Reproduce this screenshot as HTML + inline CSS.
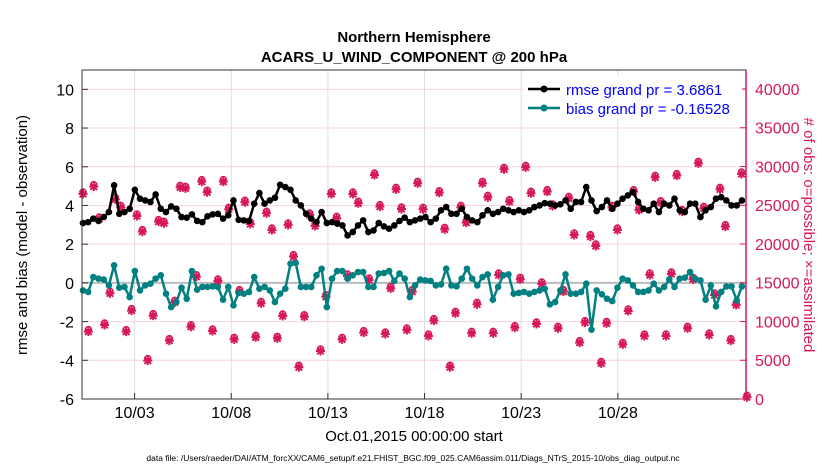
<!DOCTYPE html>
<html><head><meta charset="utf-8"><style>
body{margin:0;background:#fff;font-family:"Liberation Sans",sans-serif}
svg text{font-family:"Liberation Sans",sans-serif}
</style></head><body>
<svg id="chart" width="830" height="470" viewBox="0 0 830 470" xmlns="http://www.w3.org/2000/svg">
<rect width="830" height="470" fill="#fff"/>
<text x="414" y="42" text-anchor="middle" font-size="15" font-weight="bold">Northern Hemisphere</text>
<text x="414" y="62" text-anchor="middle" font-size="15" font-weight="bold">ACARS_U_WIND_COMPONENT @ 200 hPa</text>
<g id="grid"></g>
<g id="marks"></g>
<rect x="82" y="70" width="664" height="329" fill="none" stroke="#333" stroke-width="1"/>
<line x1="746" y1="70" x2="746" y2="399" stroke="#d6185a" stroke-width="1.5"/>
<g id="axes"></g>
<text transform="translate(27,235) rotate(-90)" text-anchor="middle" font-size="15">rmse and bias (model - observation)</text>
<text transform="translate(804,235) rotate(90)" text-anchor="middle" font-size="15" fill="#d6185a"># of obs: o=possible; ×=assimilated</text>
<text x="414" y="441" text-anchor="middle" font-size="15">Oct.01,2015 00:00:00 start</text>
<text x="413" y="461" text-anchor="middle" font-size="8.5">data file: /Users/raeder/DAI/ATM_forcXX/CAM6_setup/f.e21.FHIST_BGC.f09_025.CAM6assim.011/Diags_NTrS_2015-10/obs_diag_output.nc</text>
<g>
<rect x="524" y="76" width="218" height="42" fill="#fff"/>
<line x1="528" y1="89" x2="560" y2="89" stroke="#000" stroke-width="2.5"/>
<circle cx="544" cy="89" r="3.5" fill="#000"/>
<text x="566" y="95" font-size="15" fill="#0000ff">rmse grand pr = 3.6861</text>
<line x1="528" y1="108" x2="560" y2="108" stroke="#008080" stroke-width="2.5"/>
<circle cx="544" cy="108" r="3.5" fill="#008080"/>
<text x="566" y="114" font-size="15" fill="#0000ff">bias grand pr = -0.16528</text>
</g>
</svg>
<script>
const rmse=[3.09,3.14,3.32,3.2,3.4,3.66,5.04,3.57,3.66,3.83,4.81,4.35,4.26,4.18,4.57,3.83,3.66,3.95,3.83,3.4,3.37,3.54,3.2,3.14,3.44,3.54,3.57,3.32,3.49,4.26,3.26,3.23,3.2,4.09,4.64,4.09,4.26,4.4,5.07,4.95,4.81,4.26,4.0,
3.57,3.32,3.14,3.66,3.09,3.14,3.06,2.97,2.45,2.63,2.97,3.23,2.63,2.71,3.09,2.92,2.8,2.97,3.2,3.37,3.14,3.23,3.32,3.4,3.14,3.32,3.75,3.92,3.57,3.57,3.83,3.4,3.23,3.14,3.49,3.75,3.57,3.66,3.83,3.75,3.66,
3.75,3.66,3.75,3.92,4.0,4.12,4.09,4.0,4.06,4.26,3.83,4.18,4.18,4.95,4.26,3.71,3.92,4.26,3.83,4.09,4.35,4.52,4.69,4.18,3.83,3.75,4.09,3.66,4.09,4.0,4.35,3.75,3.66,4.09,4.09,3.4,3.75,3.92,4.35,4.43,4.26,4.0,4.0,4.26];
const bias=[-0.39,-0.47,0.3,0.22,0.17,-0.13,0.91,-0.25,-0.21,-0.73,0.61,-0.39,-0.13,-0.04,0.22,0.39,-0.56,-1.25,-0.99,-0.25,-0.82,0.61,-0.35,-0.21,-0.21,-0.18,-0.21,-0.87,-0.21,-1.16,-0.52,-0.56,-0.47,0.3,-0.3,-0.21,-0.39,-0.99,-0.56,-0.3,0.99,1.03,-0.21,
-0.21,-0.21,0.39,0.73,-1.25,0.22,0.61,0.61,0.22,0.39,0.56,0.56,-0.21,-0.21,0.48,0.51,0.61,0.1,0.48,0.22,-0.73,-0.13,0.17,0.13,0.1,-0.13,-0.08,0.73,-0.13,-0.18,0.22,0.73,0.22,-0.13,0.3,0.44,-0.87,-0.21,0.39,0.44,-0.56,-0.52,
-0.47,-0.56,-0.47,-0.39,-0.3,-1.11,-0.99,-0.39,0.44,-0.56,-0.56,-0.47,-0.04,-2.42,-0.39,-0.59,-0.82,-0.94,-0.25,0.22,0.13,-0.13,-0.47,-0.47,-0.39,-0.04,-0.39,-0.21,0.17,-0.21,0.22,0.27,0.56,0.22,0.13,-0.87,-0.13,-1.21,-0.47,-0.18,-0.18,-0.9,-0.18];
const nAssim=[26450,8690,27400,23230,9550,13630,25760,24730,8690,11400,23610,21590,4950,10750,22880,22670,7530,12470,27310,27180,9330,15780,28040,26670,8770,15230,28040,24470,7700,13850,25380,22580,7960,12340,23960,21810,7830,10710,22450,18370,4090,10620,
23740,22320,6190,13200,26450,23310,7700,15870,26450,25250,8560,15350,28900,24820,8390,14280,27050,24520,8900,13850,27830,24470,8130,10110,26620,21890,4090,11050,24730,22750,8470,12210,27830,26020,8470,16000,29630,25460,9210,
15440,29890,26540,9680,14840,26750,24900,9120,13850,25890,21160,7270,9850,20950,19740,4600,9760,24730,21810,7050,11350,26750,24390,8130,16000,28600,25330,8130,16130,28820,24170,9120,15440,30410,24600,8260,13420,27050,22240,7530,12130,29030,220];
const xTickLabels=["10/03","10/08","10/13","10/18","10/23","10/28"];
const xTickDays=[2,7,12,17,22,27];
const leftTicks=[-6,-4,-2,0,2,4,6,8,10];
const rightTicks=[0,5000,10000,15000,20000,25000,30000,35000,40000];
const dayStart=-0.72, dayEnd=33.63;
const lineStartDay=-0.67, lineEndDay=33.42, obsStartDay=-0.67, obsEndDay=33.68;

const X0=82,X1=746,Y0=399,Y1=70;
const xS=d=>X0+(d-dayStart)/(dayEnd-dayStart)*(X1-X0);
const yL=v=>Y0-(v+6)/17*(Y0-Y1);
const yR=c=>Y0-c/42451*(Y0-Y1);
const NS="http://www.w3.org/2000/svg";
function mk(tag,attrs,parent){const e=document.createElementNS(NS,tag);for(const k in attrs)e.setAttribute(k,attrs[k]);parent.appendChild(e);return e;}
const grid=document.getElementById('grid'),marks=document.getElementById('marks'),axes=document.getElementById('axes');
leftTicks.forEach(v=>{
  const gl=mk('line',{x1:X0,x2:X1,y1:yL(v),y2:yL(v),stroke:v===0?'#bbb':'#f6d3df','stroke-width':v===0?2:1},grid);
  
  
  const t=mk('line',{x1:X0,x2:X0+6,y1:yL(v),y2:yL(v),stroke:'#333'},axes);
  
  
  const tx=mk('text',{x:X0-8,y:yL(v)+6,'text-anchor':'end','font-size':16},axes);
  tx.textContent=v;
  
  
});
rightTicks.forEach(c=>{
  const t=mk('line',{x1:X1-6,x2:X1,y1:yR(c),y2:yR(c),stroke:'#d6185a'},axes);
  
  
  const tx=mk('text',{x:X1+9,y:yR(c)+6,'font-size':16,fill:'#d6185a'},axes);
  tx.textContent=c;
  
  
});
xTickDays.forEach((d,i)=>{
  const gl=mk('line',{x1:xS(d),x2:xS(d),y1:Y1,y2:Y0,stroke:'#ddd'},grid);
  
  
  const t=mk('line',{x1:xS(d),x2:xS(d),y1:Y0-6,y2:Y0,stroke:'#333'},axes);
  
  
  const tx=mk('text',{x:xS(d),y:418,'text-anchor':'middle','font-size':16},axes);
  tx.textContent=xTickLabels[i];
  
  
});
const oStep=(obsEndDay-obsStartDay)/(nAssim.length-1);
nAssim.forEach((c,i)=>{
  const x=xS(obsStartDay+i*oStep),y=yR(c);
  const g=mk('g',{},marks);
  
  
  mk('circle',{cx:x,cy:y-2,r:3,fill:'none',stroke:'#d6185a','stroke-width':1.5},g);
  mk('path',{d:`M${x-4.5} ${y}H${x+4.5}M${x} ${y-4.5}V${y+4.5}M${x-3.3} ${y-3.3}L${x+3.3} ${y+3.3}M${x-3.3} ${y+3.3}L${x+3.3} ${y-3.3}`,stroke:'#d6185a','stroke-width':2},g);
});
function series(vals,color,name){
  const step=(lineEndDay-lineStartDay)/(vals.length-1);
  const pts=vals.map((v,i)=>[xS(lineStartDay+i*step),yL(v)]);
  const p=mk('polyline',{points:pts.map(p=>p.join(',')).join(' '),fill:'none',stroke:color,'stroke-width':2.5},marks);
  
  
  pts.forEach(q=>{
    const c=mk('circle',{cx:q[0],cy:q[1],r:3.3,fill:color},marks);
    
    
  });
}
series(bias,'#008080','bias');
series(rmse,'#000','rmse');
</script>
</body></html>
